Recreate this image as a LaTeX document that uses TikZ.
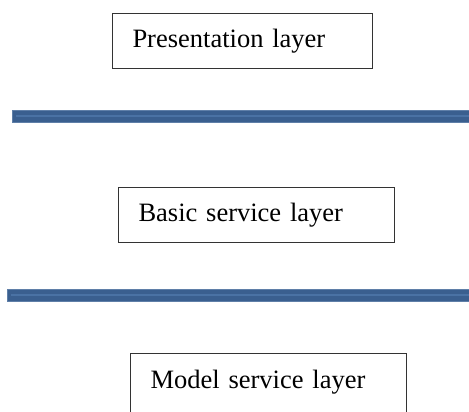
\documentclass[tikz,border=0pt]{standalone}
\usepackage{fontspec}
\setmainfont{Liberation Serif}
\definecolor{barblue}{HTML}{3A5F8F}
\definecolor{barlight}{HTML}{4A72A4}
\definecolor{baredge}{HTML}{5F7FA8}
\definecolor{boxline}{HTML}{333333}
\begin{document}
\begin{tikzpicture}[x=1pt,y=-1pt,
  layerbox/.style={draw=boxline, line width=1pt, anchor=north west, inner xsep=20pt, inner ysep=0pt,
    align=left, font=\fontsize{26.5}{30}\selectfont},
  bar/.style={fill=barblue, draw=baredge, line width=0.8pt},
  barstripe/.style={draw=barlight, line width=2pt}]
\useasboundingbox (0,0) rectangle (469,412);
\clip (0,0) rectangle (469,412);
\node[layerbox, text width=220pt, minimum height=55pt] (pres) at (112,13) {Presentation layer};
\node[layerbox, text width=236pt, minimum height=55pt] (basic) at (118,187) {Basic service layer};
\node[layerbox, text width=236pt, minimum height=70pt, text depth=18pt] (model) at (130,353) {Model service layer};
\draw[bar] (12,110) rectangle (472,122);
\draw[barstripe] (16,116) -- (472,116);
\draw[bar] (7,289) rectangle (472,301);
\draw[barstripe] (11,295) -- (472,295);
\end{tikzpicture}
\end{document}
